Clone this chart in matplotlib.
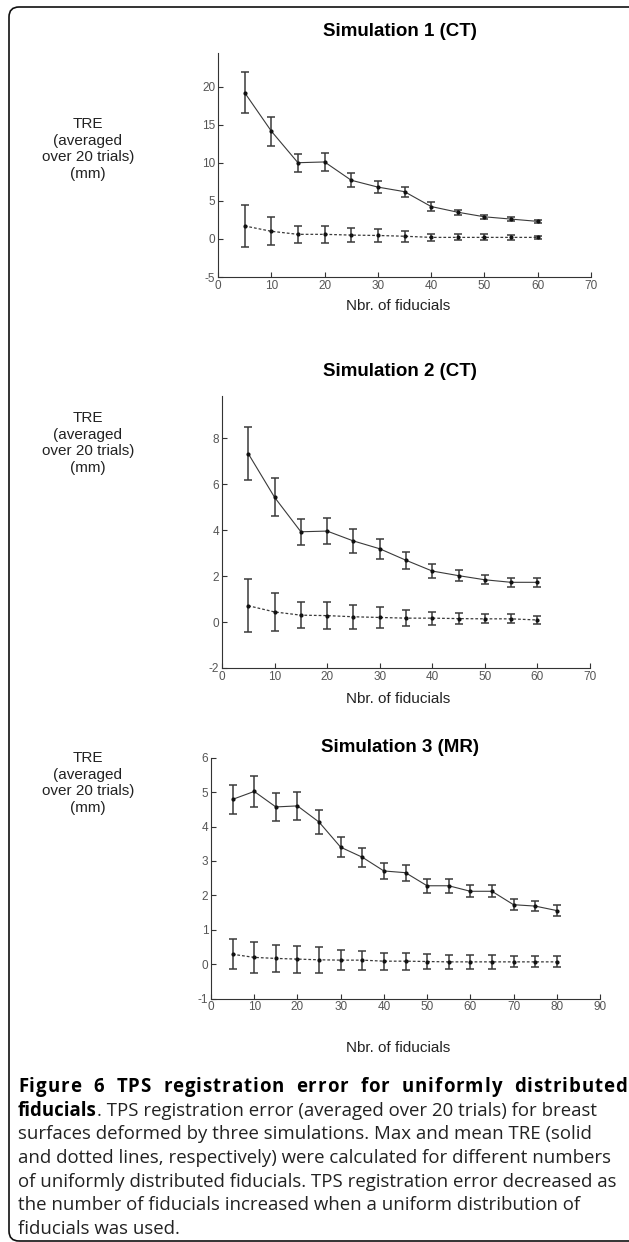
import numpy as np
import matplotlib
matplotlib.use('Agg')
import matplotlib.pyplot as plt
from matplotlib.patches import FancyBboxPatch

# ---- data ----
x_sim12 = [5, 10, 15, 20, 25, 30, 35, 40, 45, 50, 55, 60]
x_sim3 = [5, 10, 15, 20, 25, 30, 35, 40, 45, 50, 55, 60, 65, 70, 75, 80]

sim1_max = [19.2, 14.15, 10.0, 10.1, 7.7, 6.8, 6.2, 4.25, 3.5, 2.9, 2.6, 2.3]
sim1_max_err = [2.7, 1.9, 1.2, 1.2, 0.9, 0.75, 0.65, 0.55, 0.35, 0.3, 0.3, 0.2]
sim1_mean = [1.7, 1.0, 0.6, 0.6, 0.5, 0.45, 0.35, 0.2, 0.2, 0.2, 0.2, 0.2]
sim1_mean_err = [2.7, 1.85, 1.15, 1.15, 0.9, 0.8, 0.75, 0.5, 0.4, 0.4, 0.3, 0.2]

sim2_max = [7.33, 5.43, 3.93, 3.96, 3.53, 3.19, 2.69, 2.22, 2.02, 1.84, 1.73, 1.73]
sim2_max_err = [1.15, 0.83, 0.56, 0.58, 0.52, 0.43, 0.37, 0.29, 0.25, 0.2, 0.2, 0.2]
sim2_mean = [0.71, 0.44, 0.3, 0.28, 0.23, 0.2, 0.17, 0.17, 0.15, 0.14, 0.14, 0.09]
sim2_mean_err = [1.16, 0.82, 0.56, 0.58, 0.53, 0.44, 0.35, 0.28, 0.24, 0.2, 0.2, 0.16]

sim3_max = [4.79, 5.02, 4.57, 4.6, 4.13, 3.4, 3.11, 2.71, 2.66, 2.28, 2.28, 2.12, 2.12, 1.73, 1.69, 1.56]
sim3_max_err = [0.43, 0.46, 0.41, 0.4, 0.35, 0.29, 0.28, 0.24, 0.23, 0.2, 0.2, 0.18, 0.17, 0.16, 0.15, 0.15]
sim3_mean = [0.29, 0.2, 0.17, 0.15, 0.13, 0.12, 0.12, 0.09, 0.09, 0.08, 0.07, 0.07, 0.07, 0.07, 0.07, 0.07]
sim3_mean_err = [0.44, 0.46, 0.38, 0.39, 0.37, 0.3, 0.28, 0.25, 0.25, 0.21, 0.21, 0.2, 0.2, 0.16, 0.16, 0.16]

titles = ['Simulation 1 (CT)', 'Simulation 2 (CT)', 'Simulation 3 (MR)']
xlabel = 'Nbr. of fiducials'
ylabel = 'TRE\n(averaged\nover 20 trials)\n(mm)'

caption_bold = 'Figure 6 TPS registration error for uniformly distributed'
caption_lines = [
    ('fiducials', '. TPS registration error (averaged over 20 trials) for breast'),
    ('', 'surfaces deformed by three simulations. Max and mean TRE (solid'),
    ('', 'and dotted lines, respectively) were calculated for different numbers'),
    ('', 'of uniformly distributed fiducials. TPS registration error decreased as'),
    ('', 'the number of fiducials increased when a uniform distribution of'),
    ('', 'fiducials was used.'),
]

W, H = 629, 1242
plt.rcParams['font.family'] = ['Liberation Sans', 'DejaVu Sans']
plt.rcParams['axes.unicode_minus'] = False
fig = plt.figure(figsize=(W / 100, H / 100), dpi=100)


def px_axes(left, right, top, bottom):
    return fig.add_axes([left / W, 1 - bottom / H, (right - left) / W, (bottom - top) / H])


panels = [
    dict(box=(218, 591, 53, 277), x=x_sim12, mx=sim1_max, mxe=sim1_max_err, mn=sim1_mean, mne=sim1_mean_err,
         xlim=(0, 70), ylim=(-5, 24.4), yticks=range(-5, 21, 5), xticks=range(0, 71, 10),
         title_y=32, xlab_y=306, ylab_y=149),
    dict(box=(222, 590, 396, 668), x=x_sim12, mx=sim2_max, mxe=sim2_max_err, mn=sim2_mean, mne=sim2_mean_err,
         xlim=(0, 70), ylim=(-2, 9.84), yticks=range(-2, 9, 2), xticks=range(0, 71, 10),
         title_y=371, xlab_y=699, ylab_y=443),
    dict(box=(211, 600, 757.7, 998.7), x=x_sim3, mx=sim3_max, mxe=sim3_max_err, mn=sim3_mean, mne=sim3_mean_err,
         xlim=(0, 90), ylim=(-1, 6), yticks=range(-1, 7), xticks=range(0, 91, 10),
         title_y=747, xlab_y=1048, ylab_y=783),
]

line_col = '#3a3a3a'
for i, p in enumerate(panels):
    ax = px_axes(*p['box'])
    ax.errorbar(p['x'], p['mx'], yerr=p['mxe'], color=line_col, lw=0.8, elinewidth=1.1,
                capsize=3.2, capthick=1.1, marker='.', ms=4, mfc='#111', mec='#111')
    ax.errorbar(p['x'], p['mn'], yerr=p['mne'], color=line_col, lw=0.9, ls=(0, (2.2, 1.6)),
                elinewidth=1.1, capsize=3.2, capthick=1.1, marker='.', ms=4, mfc='#111', mec='#111')
    ax.set_xlim(*p['xlim'])
    ax.set_ylim(*p['ylim'])
    ax.set_xticks(list(p['xticks']))
    ax.set_yticks(list(p['yticks']))
    for s in ['top', 'right']:
        ax.spines[s].set_visible(False)
    for s in ['left', 'bottom']:
        ax.spines[s].set_color('#333333')
        ax.spines[s].set_linewidth(0.8)
    ax.tick_params(direction='in', length=3.5, width=0.8, color='#333333',
                   labelsize=8.5, labelcolor='#555555', pad=2)
    ax.patch.set_alpha(0)

    fig.text(400 / W, 1 - p['title_y'] / H, titles[i], ha='center', va='center',
             fontsize=13.5, fontweight='bold')
    fig.text(398 / W, 1 - p['xlab_y'] / H, xlabel, ha='center', va='center', fontsize=11, color='#222222')
    fig.text(88 / W, 1 - p['ylab_y'] / H, ylabel, ha='center', va='center', fontsize=11,
             color='#222222', linespacing=1.25, multialignment='center')

# caption
cap_font = 'Open Sans'
cap_size = 13.4
x0, x1 = 18, 627
y_first = 1087
step = 23.7
renderer = fig.canvas.get_renderer()

# bold heading: letter-spaced and justified to the full width
tracking = 0.9
words = caption_bold.split(' ')
word_chars = []
for w in words:
    chars = []
    for ch in w:
        t = fig.text(0, 0, ch, fontsize=cap_size, fontweight='bold', family=cap_font, va='center')
        chars.append((t, t.get_window_extent(renderer).width))
    word_chars.append(chars)
word_w = [sum(cw for _, cw in chars) + tracking * (len(chars) - 1) for chars in word_chars]
gap = (x1 - x0 - sum(word_w)) / (len(words) - 1)
xpos = x0
for chars, ww in zip(word_chars, word_w):
    cx = xpos
    for t, cw in chars:
        t.set_position((cx / W, 1 - y_first / H))
        cx += cw + tracking
    xpos += ww + gap

for k, (bold_part, rest) in enumerate(caption_lines):
    y = 1 - (y_first + step * (k + 1)) / H
    xs = x0
    if bold_part:
        tb = fig.text(xs / W, y, bold_part, fontsize=cap_size, fontweight='bold', family=cap_font, va='center')
        xs += tb.get_window_extent(renderer).width
    fig.text(xs / W, y, rest, fontsize=cap_size, family=cap_font, va='center', color='#222222')

# outer rounded frame
frame = FancyBboxPatch((9, 1), 640, 1234, boxstyle='round,pad=0,rounding_size=10',
                       transform=None, fill=False, lw=1.2, ec='#111111')
fig.add_artist(frame)

fig.savefig('out.png', dpi=100)
